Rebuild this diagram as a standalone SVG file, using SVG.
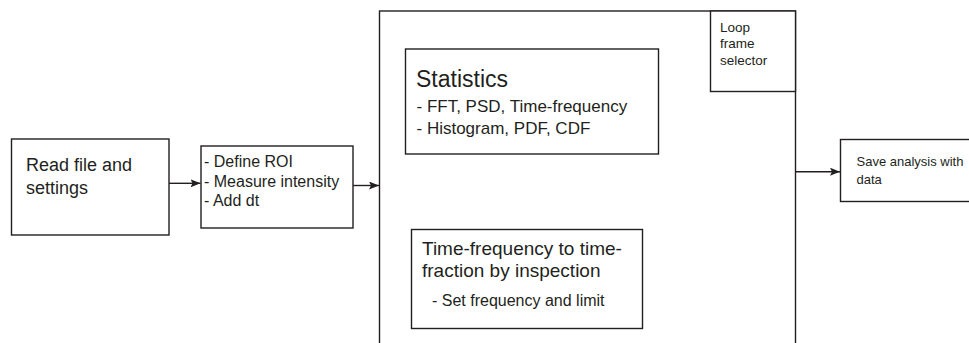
<svg xmlns="http://www.w3.org/2000/svg" width="969" height="343" viewBox="0 0 969 343">
<defs>
<style>
.box{fill:#fff;stroke:#231f20;stroke-width:1.4}
.t{font-family:"Liberation Sans",Arial,sans-serif;fill:#231f20}
.c{stroke:#231f20;stroke-width:1.4;fill:none}
</style>
<marker id="ah" viewBox="0 0 10 8" refX="10" refY="4" markerWidth="10" markerHeight="8" markerUnits="userSpaceOnUse" orient="auto">
<path d="M0,0 L10,4 L0,8 L2,4 Z" fill="#231f20"/>
</marker>
</defs>
<rect width="969" height="343" fill="#fff"/>
<g id="read">
<rect class="box" x="11.5" y="139" width="157.5" height="96"/>
<text class="t" font-size="18" x="26" y="171">Read file and</text>
<text class="t" font-size="18" x="26" y="194">settings</text>
</g>
<g id="roi">
<rect class="box" x="201" y="146" width="152" height="82"/>
<text class="t" font-size="16" x="204" y="166.5">- Define ROI</text>
<text class="t" font-size="16" x="204" y="186.5">- Measure intensity</text>
<text class="t" font-size="16" x="204" y="205.5">- Add dt</text>
</g>
<g id="loop">
<rect class="box" x="379.5" y="11" width="416" height="345"/>
</g>
<g id="selector">
<rect class="box" x="710.5" y="11" width="85" height="80.5"/>
<text class="t" font-size="13.5" x="720" y="31.5">Loop</text>
<text class="t" font-size="13.5" x="720" y="48">frame</text>
<text class="t" font-size="13.5" x="720" y="64.5">selector</text>
</g>
<g id="statistics">
<rect class="box" x="405.5" y="49" width="253" height="105"/>
<text class="t" font-size="23" x="416" y="87">Statistics</text>
<text class="t" font-size="17" x="416.5" y="111.5">- FFT, PSD, Time-frequency</text>
<text class="t" font-size="17" x="416.5" y="134">- Histogram, PDF, CDF</text>
</g>
<g id="timefreq">
<rect class="box" x="411.5" y="229.5" width="231" height="99"/>
<text class="t" font-size="19" x="422" y="255">Time-frequency to time-</text>
<text class="t" font-size="19" x="422" y="277">fraction by inspection</text>
<text class="t" font-size="16" x="432" y="306">- Set frequency and limit</text>
</g>
<g id="save">
<rect class="box" x="840.5" y="139.5" width="140" height="62"/>
<text class="t" font-size="13" x="856.5" y="166">Save analysis with</text>
<text class="t" font-size="13" x="856.5" y="183.5">data</text>
</g>
<g id="connectors">
<line class="c" x1="169" y1="183.3" x2="200.5" y2="183.3" marker-end="url(#ah)"/>
<line class="c" x1="353" y1="185.5" x2="379" y2="185.5" marker-end="url(#ah)"/>
<line class="c" x1="795.5" y1="171.7" x2="840" y2="171.7" marker-end="url(#ah)"/>
</g>
</svg>
